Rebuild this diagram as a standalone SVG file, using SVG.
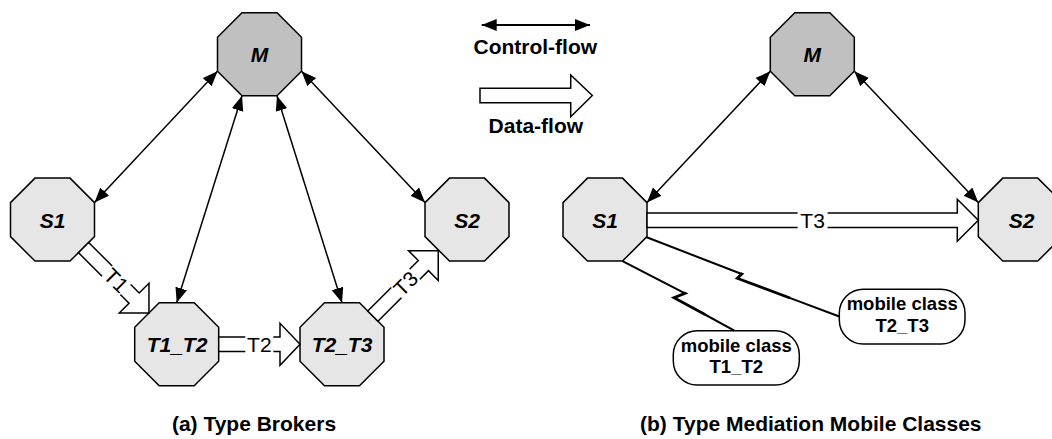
<svg xmlns="http://www.w3.org/2000/svg" width="1052" height="439" viewBox="0 0 1052 439">
<style>
text{font-family:"Liberation Sans",Arial,Helvetica,sans-serif;fill:#000}
.nl{font-size:21px;font-weight:bold;font-style:italic;text-anchor:middle}
.lb{font-size:21px;text-anchor:middle}
.bt{font-size:18.5px;font-weight:bold;text-anchor:middle}
.cap{font-size:21px;font-weight:bold;text-anchor:middle}
.oct{stroke:#000;stroke-width:1.5}
.ctl{stroke:#000;stroke-width:1.5;fill:none;marker-start:url(#ah);marker-end:url(#ah)}
.data{fill:#fff;stroke:#000;stroke-width:1.5;stroke-linejoin:miter}
.bolt{fill:none;stroke:#000;stroke-width:2;stroke-linejoin:miter}
.boltk{fill:none;stroke:#000;stroke-width:2.8;stroke-linejoin:miter}
.box{fill:#fff;stroke:#000;stroke-width:1.5}
</style>
<defs>
<marker id="ah" markerUnits="userSpaceOnUse" markerWidth="16" markerHeight="13" refX="15" refY="6" orient="auto-start-reverse" viewBox="0 0 16 13">
<path d="M0,0 L15,6 L0,12 Z" fill="#000"/>
</marker>
<polygon id="oct" points="-17.5,-41.5 17.5,-41.5 42,-17 42,17 17.5,41.5 -17.5,41.5 -42,17 -42,-17"/>
</defs>

<g id="nodes-a">
<g id="a-M"><use href="#oct" x="259.5" y="54.2" fill="#c0c0c0" class="oct"/><text class="nl" x="259.5" y="61.7">M</text></g>
<g id="a-S1"><use href="#oct" x="52.5" y="219.6" fill="#e6e6e6" class="oct"/><text class="nl" x="52.5" y="227.6">S1</text></g>
<g id="a-S2"><use href="#oct" x="467" y="219.6" fill="#e6e6e6" class="oct"/><text class="nl" x="467" y="227.6">S2</text></g>
<g id="a-T1_T2"><use href="#oct" x="176.7" y="344.3" fill="#e6e6e6" class="oct"/><text class="nl" x="177" y="351.8">T1_T2</text></g>
<g id="a-T2_T3"><use href="#oct" x="342" y="344.3" fill="#e6e6e6" class="oct"/><text class="nl" x="342" y="351.8">T2_T3</text></g>
</g>

<g id="nodes-b">
<g id="b-M"><use href="#oct" x="812.3" y="54.2" fill="#c0c0c0" class="oct"/><text class="nl" x="812.3" y="61.7">M</text></g>
<g id="b-S1"><use href="#oct" x="605" y="219.6" fill="#e6e6e6" class="oct"/><text class="nl" x="605" y="227.6">S1</text></g>
<g id="b-S2"><use href="#oct" x="1020.3" y="219.6" fill="#e6e6e6" class="oct"/><text class="nl" x="1021.5" y="227.6">S2</text></g>
<g id="b-mc2"><rect class="box" x="839.3" y="289.3" width="125.7" height="54.7" rx="24" ry="24"/><text class="bt" x="902.2" y="310.3">mobile class</text><text class="bt" x="902.2" y="331.7">T2_T3</text></g>
<g id="b-mc1"><rect class="box" x="673.3" y="330.7" width="126" height="54.3" rx="24" ry="24"/><text class="bt" x="736.3" y="351.7">mobile class</text><text class="bt" x="736.3" y="373.2">T1_T2</text></g>
</g>

<g id="connectors">
<line class="ctl" x1="217.5" y1="71.2" x2="94.5" y2="202.6"/>
<line class="ctl" x1="242" y1="95.7" x2="176.7" y2="302.8"/>
<line class="ctl" x1="277" y1="95.7" x2="342" y2="302.8"/>
<line class="ctl" x1="301.5" y1="71.2" x2="425" y2="202.6"/>
<line class="ctl" x1="770.3" y1="71.2" x2="647" y2="202.6"/>
<line class="ctl" x1="854.3" y1="71.2" x2="978.3" y2="202.6"/>

<g transform="translate(83.55,247.55) rotate(45)">
<path class="data" d="M0,-7.2 H71.5 V-21 L92.5,0 L71.5,21 V7.2 H0 Z"/>
<g transform="translate(46.3,0)"><rect x="-13" y="-10" width="26" height="20" fill="#fff"/><text class="lb" x="0" y="7.5">T1</text></g>
</g>
<g transform="translate(218.7,344.3)">
<path class="data" d="M0,-7.2 H61.3 V-21 L81.3,0 L61.3,21 V7.2 H0 Z"/>
<g transform="translate(40.6,0)"><rect x="-14" y="-10" width="28" height="20" fill="#fff"/><text class="lb" x="0" y="7.5">T2</text></g>
</g>
<g transform="translate(372.85,316.15) rotate(-45)">
<path class="data" d="M0,-7.2 H71.5 V-21 L92.5,0 L71.5,21 V7.2 H0 Z"/>
<g transform="translate(46.3,0)"><rect x="-13" y="-10" width="26" height="20" fill="#fff"/><text class="lb" x="0" y="7.5">T3</text></g>
</g>
<g transform="translate(647,220.3)">
<path class="data" d="M0,-7.2 H310.3 V-21 L331.3,0 L310.3,21 V7.2 H0 Z"/>
<g transform="translate(165.6,0)"><rect x="-15" y="-10" width="30" height="20" fill="#fff"/><text class="lb" x="0" y="7.5">T3</text></g>
</g>

<polyline class="bolt" points="646.7,237.3 741.7,274"/>
<polyline class="boltk" points="740.5,273.6 741.7,274 737.3,278.3 790,298"/>
<polyline class="bolt" points="789,297.6 839.3,316.5"/>
<polyline class="bolt" points="622.5,261.1 685,293.3"/>
<polyline class="boltk" points="684,292.8 685,293.3 674,297.7 705,314.5"/>
<polyline class="bolt" points="704,314 734.3,330.7"/>
</g>

<g id="legend">
<line class="ctl" x1="481.7" y1="25" x2="590" y2="25" style="stroke-width:2"/>
<text class="cap" x="535.3" y="54.3">Control-flow</text>
<path class="data" d="M480,88.3 H570.7 V75 L592.3,95.5 L570.7,116.7 V102.7 H480 Z"/>
<text class="cap" x="535.8" y="133.3">Data-flow</text>
</g>

<g id="captions">
<text class="cap" x="254" y="431">(a) Type Brokers</text>
<text class="cap" x="810.8" y="431">(b) Type Mediation Mobile Classes</text>
</g>
</svg>
